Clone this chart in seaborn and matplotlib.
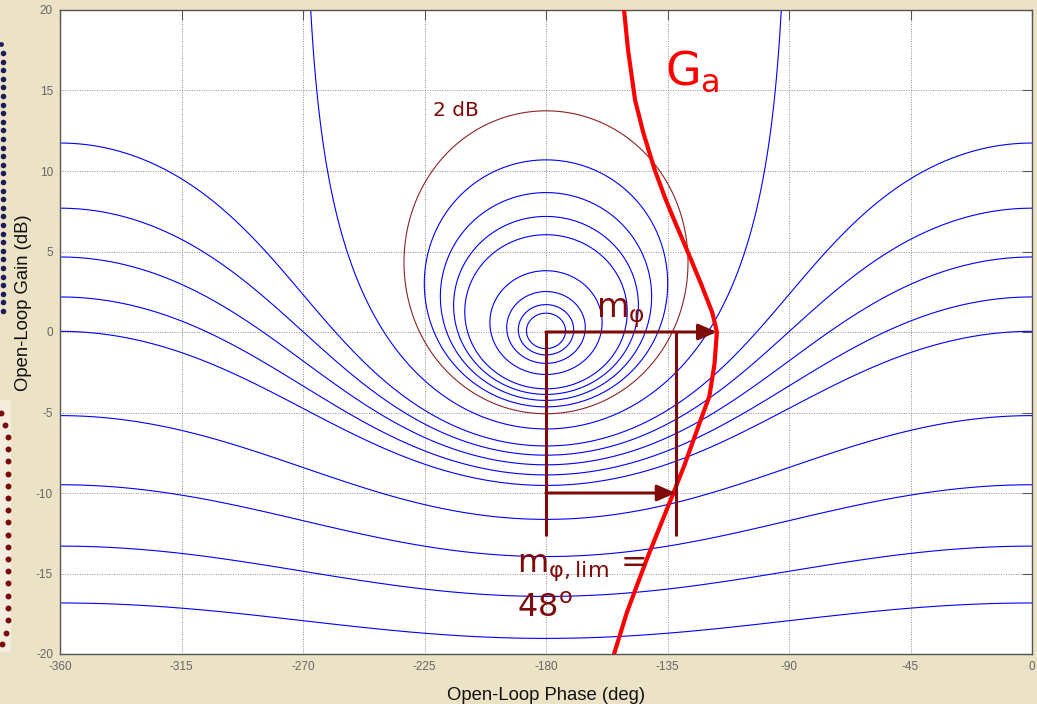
import numpy as np
import pandas as pd
import matplotlib
matplotlib.use("Agg")
import matplotlib.pyplot as plt
from matplotlib.patches import Rectangle
import seaborn as sns

# Open-loop response G_a on the Nichols plane
ga_phase = [-151.1, -149.6, -147.0, -144.0, -139.8, -135.6, -132.9, -127.8,
            -122.6, -118.4, -116.7, -117.6, -119.5, -123.0, -126.0, -128.8,
            -132.8, -137.6, -142.4, -146.0, -150.0, -154.8]
ga_gain = [20.0, 17.5, 14.4, 12.4, 10.1, 8.2, 7.1, 5.1,
           3.0, 1.2, 0.0, -2.0, -4.0, -5.6, -7.0, -8.3,
           -10.0, -12.0, -14.0, -15.6, -17.4, -20.0]

# Closed-loop magnitude contours (dB)
m_levels = [-18, -15, -12, -9, -6, -5, -4, -3, -2, 0, 3, 4, 5, 6, 9, 12, 15, 18]
m_level_marked = [2]

phase_ticks = list(range(-360, 1, 45))
gain_ticks = list(range(-20, 21, 5))

phase_margin = 180 + ga_phase[ga_gain.index(0.0)]   # at the 0 dB crossing
phase_margin_lim = 48                                # deg
gain_at_lim = -10.0                                  # dB

BG = "#ECE2C6"
DARK_RED = "#7F0A0A"
GRID_RED = "#8E2424"

sns.set_style("white")
plt.rcParams["font.family"] = ["Liberation Sans", "DejaVu Sans"]
plt.rcParams["axes.unicode_minus"] = False

fig = plt.figure(figsize=(10.37, 7.04), dpi=100, facecolor=BG)

# decorative background: pale strip and dotted borders on the left
bg = fig.add_axes([0, 0, 1, 1], zorder=0)
bg.set_xlim(0, 1037)
bg.set_ylim(704, 0)
bg.axis("off")
bg.add_patch(Rectangle((0, 400), 11, 252, color="#F4ECDC", lw=0))
navy_y = np.arange(53, 313, 8.6)
bg.scatter(np.full(navy_y.size, 3.0), navy_y, s=16, color="#1C1C5C", lw=0)
bg.scatter([0.5], [44], s=12, color="#1C1C5C", lw=0)
red_y = np.arange(437, 622, 12.2)
bg.scatter(np.full(red_y.size, 8.3), red_y, s=18, color="#7A0A0A", lw=0)
bg.scatter([0.5, 5, 6, 1.8], [413, 425, 633, 644], s=18, color="#7A0A0A", lw=0)

ax = fig.add_axes([60 / 1037, 1 - 654 / 704, 972 / 1037, 644 / 704], zorder=1)
ax.set_facecolor("white")

# closed-loop magnitude field M = |G / (1 + G)|
ph = np.linspace(-365, 5, 1850)
gd = np.linspace(-22, 22, 1320)
PH, GD = np.meshgrid(ph, gd)
G = 10 ** (GD / 20) * np.exp(1j * np.deg2rad(PH))
with np.errstate(divide="ignore", invalid="ignore"):
    M = 20 * np.log10(np.abs(G / (1 + G)))
M = np.nan_to_num(M, nan=60, posinf=60, neginf=-60)
ax.contour(PH, GD, M, levels=m_levels, colors="#0000FF", linewidths=0.8,
           linestyles="solid", zorder=2)
ax.contour(PH, GD, M, levels=m_level_marked, colors=GRID_RED, linewidths=0.8,
           linestyles="solid", zorder=2)

# G_a curve
df = pd.DataFrame({"phase": ga_phase, "gain": ga_gain})
sns.lineplot(data=df, x="phase", y="gain", sort=False, estimator=None,
             color="#FF0000", linewidth=3.0, ax=ax, zorder=5)

# phase-margin construction
lim_phase = -180 + phase_margin_lim
arrow_kw = dict(arrowstyle="-|>,head_length=0.8,head_width=0.35", color=DARK_RED,
                lw=2.2, mutation_scale=14, shrinkA=0, shrinkB=0)
ax.annotate("", xy=(-180 + phase_margin, 0), xytext=(-180, 0),
            arrowprops=arrow_kw, zorder=6)
ax.annotate("", xy=(lim_phase, gain_at_lim), xytext=(-180, gain_at_lim),
            arrowprops=arrow_kw, zorder=6)
for xp in (-180, lim_phase):
    ax.plot([xp, xp], [0, -12.7], color=DARK_RED, lw=2.2, zorder=6,
            solid_capstyle="butt")

txt_font = ["DejaVu Sans"]
ax.text(-161.3, 0.9, r"m$_{\mathrm{φ}}$", color=DARK_RED, fontsize=24,
        family=txt_font, zorder=7)
ax.text(-222.0, 13.4, "2 dB", color=DARK_RED, fontsize=14.5, family=txt_font, zorder=7)
ax.text(-136.0, 15.4, r"G$_{\mathrm{a}}$", color="#FF0000", fontsize=33,
        family=txt_font, zorder=7)
ax.text(-190.8, -14.9, r"m$_{\mathrm{φ,lim}}$ =", color=DARK_RED, fontsize=23,
        family=txt_font, zorder=7)
ax.text(-190.8, -17.7, r"48$^{\mathrm{o}}$", color=DARK_RED, fontsize=23,
        family=txt_font, zorder=7)

ax.set_xlim(-360, 0)
ax.set_ylim(-20, 20)
ax.set_xticks(phase_ticks)
ax.set_yticks(gain_ticks)
ax.grid(True, color="#8C8C8C", linestyle=(0, (1, 1.5)), linewidth=0.7, zorder=1)
ax.set_axisbelow(True)
ax.tick_params(direction="in", length=7, width=0.8, colors="#555555",
               labelcolor="#666666", labelsize=8.5, top=True, right=True,
               pad=5)
for s in ax.spines.values():
    s.set_color("#555555")
    s.set_linewidth(1.0)
    s.set_visible(True)

ax.set_xlabel("Open-Loop Phase (deg)", fontsize=13.3, color="#111111", labelpad=10)
ax.set_ylabel("Open-Loop Gain (dB)", fontsize=13.3, color="#111111", labelpad=12)
ax.yaxis.set_label_coords(-0.029, 0.545)

fig.savefig("out.png", dpi=100, facecolor=BG)
